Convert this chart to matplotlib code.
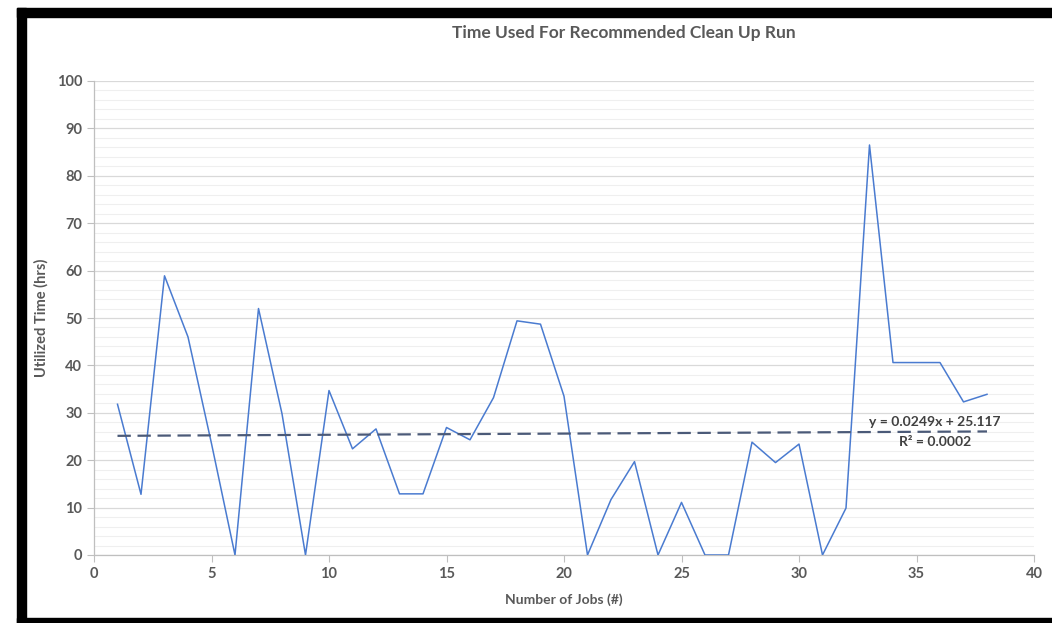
import matplotlib
matplotlib.use("Agg")
import matplotlib.pyplot as plt
import matplotlib.ticker as ticker
from matplotlib.patches import Rectangle
import numpy as np

plt.rcParams['font.family'] = ['Lato', 'DejaVu Sans']

# job number vs utilized time (hrs)
jobs = list(range(1, 39))
hours = [31.8, 12.8, 58.9, 46.0, 23.5, 0.0, 52.0, 29.8, 0.0, 34.7,
         22.4, 26.6, 12.9, 12.9, 26.9, 24.3, 33.2, 49.4, 48.7, 33.5,
         0.0, 11.7, 19.7, 0.0, 11.1, 0.0, 0.0, 23.8, 19.5, 23.4,
         0.0, 9.9, 86.5, 40.6, 40.6, 40.6, 32.3, 33.9]

trend_slope = 0.0249
trend_icept = 25.117
trend_text = "y = 0.0249x + 25.117"
r2_text = "R² = 0.0002"

grey = '#595959'
W, H = 1052, 623

fig = plt.figure(figsize=(W / 100, H / 100), dpi=100)
ax = fig.add_axes([94/W, 1 - 555/H, 940/W, 474/H])

ax.plot(jobs, hours, color='#4a7bd0', lw=1.1, zorder=3)

# linear trendline
tx = np.array([jobs[0], jobs[-1]])
ax.plot(tx, trend_slope * tx + trend_icept, color='#4b5a78', lw=1.6,
        dashes=(6, 3), zorder=4)

fig.text(935/W, 1 - 422/H, trend_text, ha='center', va='center',
         fontsize=10, color='#404040', fontweight='bold', zorder=5)
fig.text(935/W, 1 - 442/H, r2_text, ha='center', va='center',
         fontsize=10, color='#404040', fontweight='bold', zorder=5)

ax.set_xlim(0, 40)
ax.set_ylim(0, 100)
ax.xaxis.set_major_locator(ticker.MultipleLocator(5))
ax.yaxis.set_major_locator(ticker.MultipleLocator(10))
ax.yaxis.set_minor_locator(ticker.MultipleLocator(2))
ax.grid(True, which='major', axis='y', color='#d9d9d9', lw=0.9)
ax.grid(True, which='minor', axis='y', color='#efefef', lw=0.8)
ax.set_axisbelow(True)

for s in ['top', 'right']:
    ax.spines[s].set_visible(False)
for s in ['left', 'bottom']:
    ax.spines[s].set_color('#bfbfbf')
    ax.spines[s].set_linewidth(0.9)

ax.tick_params(axis='both', which='major', colors='#bfbfbf', length=5,
               labelcolor=grey, labelsize=10.5)
ax.tick_params(axis='y', which='minor', length=0)
for lab in ax.get_xticklabels() + ax.get_yticklabels():
    lab.set_fontweight('bold')

ax.set_xlabel('Number of Jobs (#)', fontsize=10, color=grey, fontweight='bold', labelpad=9)
ax.set_ylabel('Utilized Time (hrs)', fontsize=10.5, color=grey, fontweight='bold', labelpad=6)

fig.text(624/W, 1 - 33/H, 'Time Used For Recommended Clean Up Run',
         ha='center', va='center', fontsize=12.5, color=grey, fontweight='bold')

# black frame around the screenshot
fig.patches.append(Rectangle((17/W, 0), 9/W, 1 - 8/H, transform=fig.transFigure,
                             color='black', zorder=10))
fig.patches.append(Rectangle((17/W, 1 - 17/H), 1, 9/H, transform=fig.transFigure,
                             color='black', zorder=10))
fig.patches.append(Rectangle((17/W, 0), 1, 5/H, transform=fig.transFigure,
                             color='black', zorder=10))

fig.savefig('out.png', dpi=100)
